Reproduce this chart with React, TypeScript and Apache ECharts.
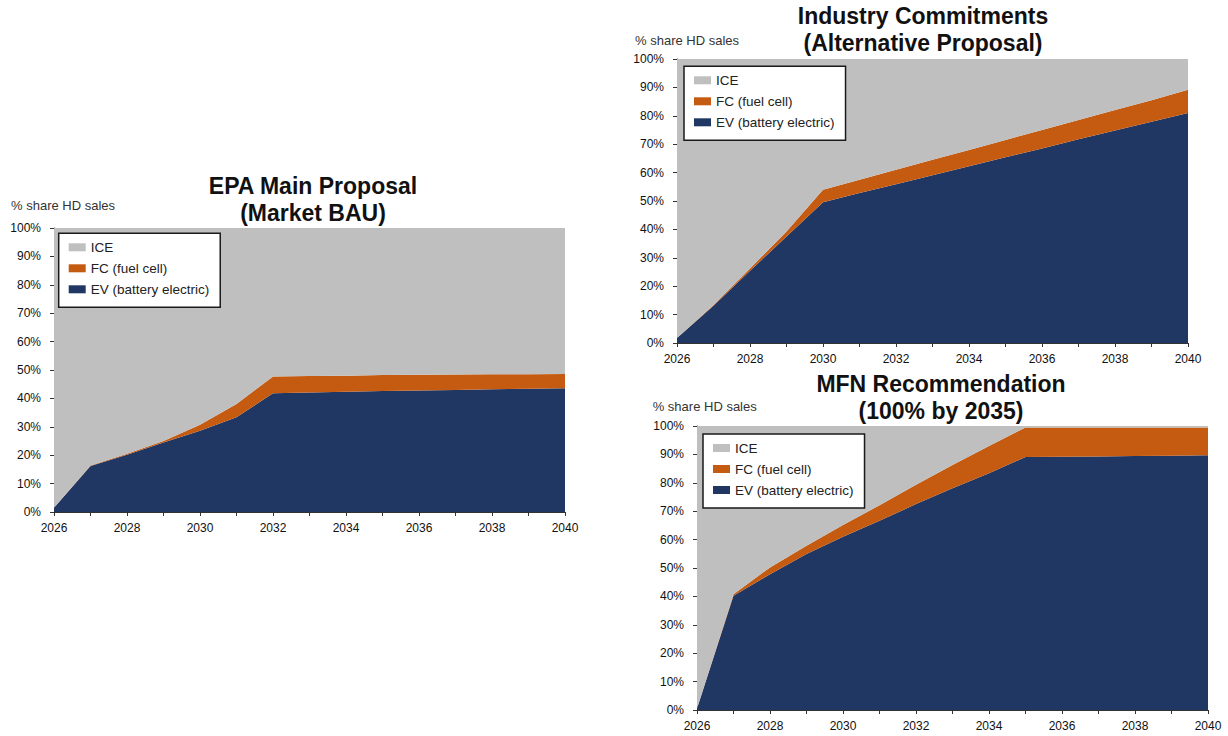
import React, { useEffect, useRef } from "react";
import * as echarts from "echarts";

const YEARS = ["2026", "2027", "2028", "2029", "2030", "2031", "2032", "2033", "2034", "2035", "2036", "2037", "2038", "2039", "2040"];
const NAME_ICE = "ICE";
const NAME_FC = "FC (fuel cell)";
const NAME_EV = "EV (battery electric)";
const Y_AXIS_NAME = "% share HD sales";

// EPA Main Proposal (Market BAU)
const epaEV = [1.5, 16.2, 20.2, 24.5, 28.6, 33.4, 41.8, 42.1, 42.3, 42.6, 42.8, 43.0, 43.2, 43.4, 43.6];
const epaFC = [0, 0.2, 0.3, 0.5, 2.1, 4.6, 5.9, 5.8, 5.7, 5.6, 5.5, 5.4, 5.3, 5.1, 5.0];
const epaICE = [98.5, 83.6, 79.5, 75.0, 69.3, 62.0, 52.3, 52.1, 52.0, 51.8, 51.7, 51.6, 51.5, 51.5, 51.4];

// Industry Commitments (Alternative Proposal)
const indEV = [1.8, 13.1, 25.4, 37.5, 49.6, 52.8, 55.9, 59.1, 62.2, 65.4, 68.5, 71.7, 74.8, 77.9, 81.0];
const indFC = [0, 0.3, 0.8, 1.8, 4.4, 4.7, 5.1, 5.4, 5.8, 6.1, 6.5, 6.8, 7.2, 7.6, 8.2];
const indICE = [98.2, 86.6, 73.8, 60.7, 46.0, 42.5, 39.0, 35.5, 32.0, 28.5, 25.0, 21.5, 18.0, 14.5, 10.8];

// MFN Recommendation (100% by 2035)
const mfnEV = [0.5, 40.2, 47.8, 54.9, 61.0, 66.6, 72.5, 78.1, 83.4, 89.1, 89.2, 89.3, 89.4, 89.5, 89.7];
const mfnFC = [0, 0.6, 2.4, 2.9, 4.1, 5.5, 6.8, 8.2, 9.6, 10.4, 10.3, 10.2, 10.1, 10.0, 9.8];
const mfnICE = [99.5, 59.2, 49.8, 42.2, 34.9, 27.9, 20.7, 13.7, 7.0, 0.5, 0.5, 0.5, 0.5, 0.5, 0.5];

const Y_MIN = 0;
const Y_MAX = 100;
const Y_STEP = 10;

const COLOR_ICE = "#bfbfbf";
const COLOR_FC = "#c55a11";
const COLOR_EV = "#203764";
const FONT = "'Liberation Sans', Arial, sans-serif";

const CHARTS = [
  { title: ["EPA Main Proposal", "(Market BAU)"], ev: epaEV, fc: epaFC, ice: epaICE },
  { title: ["Industry Commitments", "(Alternative Proposal)"], ev: indEV, fc: indFC, ice: indICE },
  { title: ["MFN Recommendation", "(100% by 2035)"], ev: mfnEV, fc: mfnFC, ice: mfnICE },
];

// layout (pixels)
const LAYOUT = [
  { grid: { left: 54, top: 228, width: 511, height: 284 }, titleX: 313, titleY: 185.7, subX: 11, subY: 205, legend: { left: 58.7, top: 233.3 } },
  { grid: { left: 677, top: 59, width: 511, height: 284 }, titleX: 923, titleY: 15.5, subX: 635, subY: 40.7, legend: { left: 684, top: 66.3 } },
  { grid: { left: 697, top: 426, width: 511, height: 284 }, titleX: 941, titleY: 383.5, subX: 652.7, subY: 406.7, legend: { left: 703, top: 434 } },
];

export default function App() {
  const ref = useRef<HTMLDivElement>(null);

  useEffect(() => {
    if (!ref.current) return;
    const chart = echarts.init(ref.current, undefined, { renderer: "svg" });

    const grids: any[] = [];
    const xAxes: any[] = [];
    const yAxes: any[] = [];
    const legends: any[] = [];
    const series: any[] = [];
    const graphics: any[] = [];

    CHARTS.forEach((c, i) => {
      const L = LAYOUT[i];
      grids.push({ ...L.grid, containLabel: false });
      xAxes.push({
        type: "category",
        gridIndex: i,
        data: YEARS,
        boundaryGap: false,
        axisLine: { show: true, lineStyle: { color: "#333", width: 1 } },
        axisTick: { show: true, interval: 0, length: 4, lineStyle: { color: "#333" } },
        axisLabel: { interval: 1, margin: 10, fontSize: 12, color: "#111", fontFamily: FONT },
        splitLine: { show: false },
      });
      yAxes.push({
        type: "value",
        gridIndex: i,
        min: Y_MIN,
        max: Y_MAX,
        interval: Y_STEP,
        axisLine: { show: true, lineStyle: { color: "#333", width: 1 } },
        axisTick: { show: true, length: 4, lineStyle: { color: "#333" } },
        axisLabel: { formatter: "{value}%", margin: 13, fontSize: 12, color: "#111", fontFamily: FONT },
        splitLine: { show: false },
      });
      legends.push({
        left: L.legend.left,
        top: L.legend.top,
        orient: "vertical",
        data: [NAME_ICE, NAME_FC, NAME_EV],
        icon: "rect",
        itemWidth: 17,
        itemHeight: 8,
        itemGap: 7,
        padding: [7, 11, 11, 10],
        backgroundColor: "#ffffff",
        borderColor: "#1a1a1a",
        borderWidth: 1.5,
        selectedMode: false,
        itemStyle: { borderWidth: 0 },
        textStyle: { fontSize: 13.5, color: "#222", fontFamily: FONT, lineHeight: 14 },
      });
      const mk = (name: string, data: number[], color: string) => ({
        name,
        type: "line",
        xAxisIndex: i,
        yAxisIndex: i,
        stack: "s" + i,
        data,
        color,
        symbol: "none",
        silent: true,
        lineStyle: { width: 0, color },
        areaStyle: { color, opacity: 1 },
        itemStyle: { color },
        emphasis: { disabled: true },
      });
      series.push(mk(NAME_EV, c.ev, COLOR_EV));
      series.push(mk(NAME_FC, c.fc, COLOR_FC));
      series.push(mk(NAME_ICE, c.ice, COLOR_ICE));

      c.title.forEach((line, k) => {
        graphics.push({
          type: "text",
          x: L.titleX,
          y: L.titleY + k * 27.6,
          style: {
            text: line,
            fontSize: 23,
            fontWeight: "bold",
            fontFamily: FONT,
            fill: "#111",
            align: "center",
            verticalAlign: "middle",
          },
        });
      });
      graphics.push({
        type: "text",
        x: L.subX,
        y: L.subY,
        style: {
          text: Y_AXIS_NAME,
          fontSize: 13,
          fontFamily: FONT,
          fill: "#333",
          align: "left",
          verticalAlign: "middle",
        },
      });
    });

    chart.setOption({
      animation: false,
      backgroundColor: "#ffffff",
      grid: grids,
      xAxis: xAxes,
      yAxis: yAxes,
      legend: legends,
      series,
      graphic: graphics,
    });

    return () => chart.dispose();
  }, []);

  return (
    <div
      ref={ref}
      style={{ position: "absolute", left: 0, top: 0, width: 1228, height: 736 }}
    />
  );
}
